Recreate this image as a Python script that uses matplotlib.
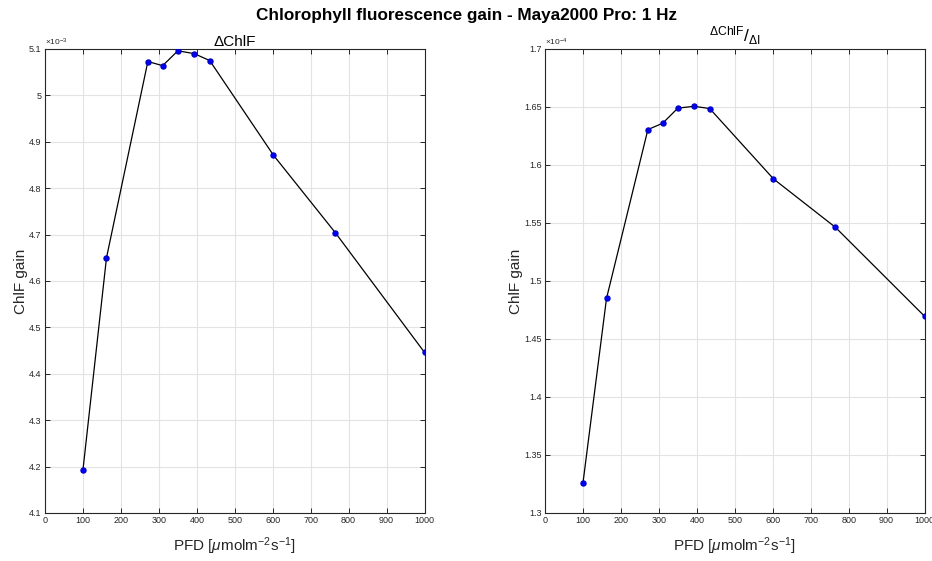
import matplotlib
matplotlib.use('Agg')
import matplotlib.pyplot as plt
from matplotlib.ticker import MultipleLocator, FuncFormatter

plt.rcParams['font.family'] = ['Liberation Sans', 'DejaVu Sans']
plt.rcParams['mathtext.fontset'] = 'custom'
plt.rcParams['mathtext.rm'] = 'Liberation Sans'
plt.rcParams['mathtext.it'] = 'Liberation Sans:italic'
plt.rcParams['mathtext.bf'] = 'Liberation Sans:bold'

# light intensity steps (PFD)
pfd = [100, 162, 271, 310, 350, 393, 434, 602, 765, 1000]

# absolute fluorescence gain
gain_abs = [4.193e-3, 4.650e-3, 5.073e-3, 5.064e-3, 5.096e-3,
            5.090e-3, 5.075e-3, 4.871e-3, 4.704e-3, 4.446e-3]

# gain normalised by the light step
gain_rel = [1.326e-4, 1.485e-4, 1.6305e-4, 1.636e-4, 1.649e-4,
            1.6506e-4, 1.6486e-4, 1.588e-4, 1.5463e-4, 1.4696e-4]

panels = [
    (gain_abs, 1e-3, 0.1e-3, (4.1e-3, 5.1e-3), r'$\times10^{-3}$',
     'ΔChlF', 11, 2, 0.0483),
    (gain_rel, 1e-4, 0.05e-4, (1.3e-4, 1.7e-4), r'$\times10^{-4}$',
     r'$^{\Delta\mathrm{ChlF}}/_{\Delta\mathrm{I}}$', 12.5, 5, 0.5848),
]

tick_col = '#262626'

fig = plt.figure(figsize=(9.32, 5.61), dpi=100)
fig.suptitle('Chlorophyll fluorescence gain - Maya2000 Pro: 1 Hz',
             fontweight='bold', fontsize=12.3, y=0.986)

for vals, scale, step, ylim, exp_txt, title, tsize, tpad, left in panels:
    ax = fig.add_axes([left, 0.0856, 0.4072, 0.8271])
    ax.plot(pfd, vals, '-', color='black', lw=0.9, zorder=3)
    ax.plot(pfd, vals, 'o', color='blue', ms=3.6, mec='#0000c8', zorder=4)
    ax.set_xlim(0, 1000)
    ax.set_ylim(*ylim)
    ax.xaxis.set_major_locator(MultipleLocator(100))
    ax.yaxis.set_major_locator(MultipleLocator(step))
    ax.yaxis.set_major_formatter(FuncFormatter(lambda v, p, s=scale: '%g' % round(v / s, 4)))
    ax.grid(True, color='#e3e3e3', lw=0.8)
    ax.set_axisbelow(True)
    ax.tick_params(direction='in', top=True, right=True, length=3.5,
                   width=0.7, labelsize=6.5, colors=tick_col, pad=2.5)
    for sp in ax.spines.values():
        sp.set_color(tick_col)
        sp.set_linewidth(0.8)
    ax.set_xlabel(r'PFD [$\mu$molm$^{-2}$s$^{-1}$]', fontsize=11,
                  color=tick_col, labelpad=7)
    ax.set_ylabel('ChlF gain', fontsize=11, color=tick_col, labelpad=1)
    ax.set_title(title, fontsize=tsize, pad=tpad, color='black')
    ax.text(0, 1.003, exp_txt, transform=ax.transAxes, ha='left',
            va='bottom', fontsize=6, color=tick_col)

fig.savefig('out.png', dpi=100)
